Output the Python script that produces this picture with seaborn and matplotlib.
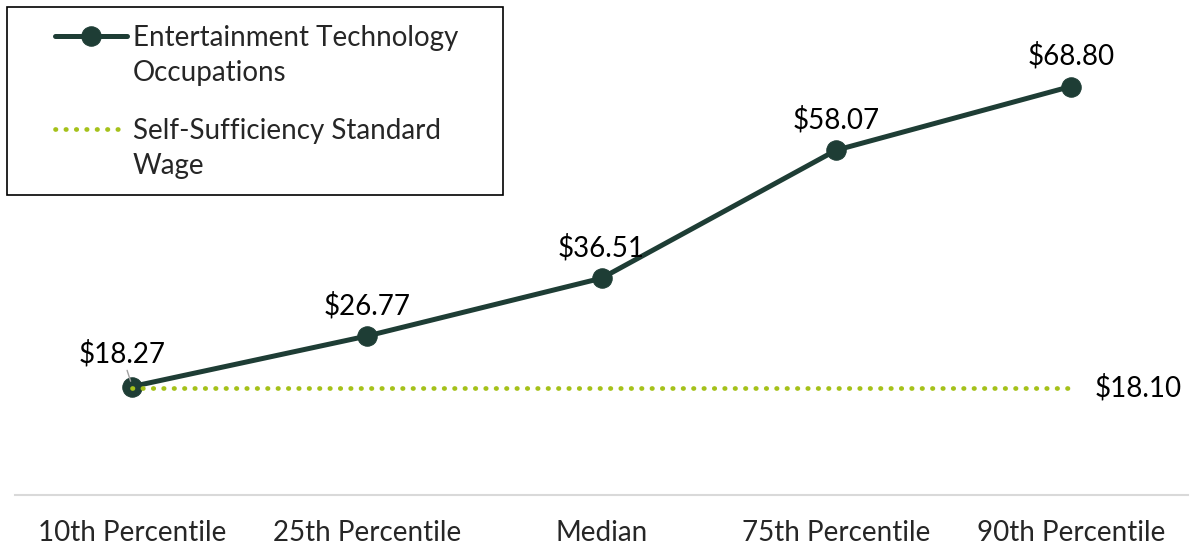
import pandas as pd
import matplotlib.pyplot as plt
import seaborn as sns
from matplotlib.patches import Rectangle
from matplotlib.lines import Line2D

sns.set_theme(style="white")
plt.rcParams['font.family'] = ['Lato', 'DejaVu Sans']

categories = ["10th Percentile", "25th Percentile", "Median", "75th Percentile", "90th Percentile"]
occupation_wages = [18.27, 26.77, 36.51, 58.07, 68.80]
self_sufficiency = [18.10, 18.10, 18.10, 18.10, 18.10]

dark_green = "#1e3d35"
lime = "#a5c11a"
fs = 20

df = pd.DataFrame({
    "x": range(len(categories)),
    "occ": occupation_wages,
    "ss": self_sufficiency,
})

fig = plt.figure(figsize=(11.95, 5.48), dpi=100)
ax = fig.add_axes([15 / 1195, 53 / 548, 1173 / 1195, 475 / 548])

sns.lineplot(data=df, x="x", y="ss", ax=ax, color=lime, linewidth=3.4,
             linestyle=(0, (0.1, 2.1)), zorder=3)
sns.lineplot(data=df, x="x", y="occ", ax=ax, color=dark_green, linewidth=3.6,
             marker="o", markersize=14, markeredgecolor=dark_green, zorder=2)
ax.lines[0].set_dash_capstyle("round")
ss_line, occ_line = ax.lines[0], ax.lines[1]

for i, v in enumerate(occupation_wages):
    if i == 0:
        ax.annotate(f"${v:.2f}", xy=(i, v), xytext=(-39, 14), textcoords="offset points",
                    ha="left", va="bottom", fontsize=fs, color="black",
                    arrowprops=dict(arrowstyle="-", color="#a0a0a0", lw=1, shrinkA=0, shrinkB=4))
    else:
        ax.annotate(f"${v:.2f}", xy=(i, v), xytext=(0, 12), textcoords="offset points",
                    ha="center", va="bottom", fontsize=fs, color="black")
ax.annotate(f"${self_sufficiency[-1]:.2f}", xy=(len(categories) - 1, self_sufficiency[-1]),
            xytext=(17, 0), textcoords="offset points", ha="left", va="center",
            fontsize=fs, color="black")

ax.set_xlim(-0.5, 4.5)
ax.set_ylim(0, 80)
ax.set_xticks(range(len(categories)))
ax.set_xticklabels(categories, fontsize=fs)
ax.set_yticks([])
ax.set_xlabel("")
ax.set_ylabel("")
ax.tick_params(axis="x", length=0, pad=18)
for side in ["top", "right", "left"]:
    ax.spines[side].set_visible(False)
ax.spines["bottom"].set_color("#d9d9d9")
ax.spines["bottom"].set_linewidth(1.5)

# legend: handle sits beside first line of each two-line label
blank = Line2D([], [], linestyle="none")
leg_kw = dict(loc="upper left", bbox_transform=fig.transFigure, fontsize=fs,
              frameon=False, borderpad=0, borderaxespad=0, handlelength=2.6,
              labelspacing=0.33, handletextpad=0.2)
leg1 = ax.legend([occ_line, blank], ["Entertainment Technology", "Occupations"],
                 bbox_to_anchor=(55 / 1195, 1 - 25 / 548), **leg_kw)
ax.add_artist(leg1)
ax.legend([ss_line, blank], ["Self-Sufficiency Standard", "Wage"],
          bbox_to_anchor=(55 / 1195, 1 - 118 / 548), **leg_kw)
fig.patches.append(Rectangle((7 / 1195, 1 - 195 / 548), 496 / 1195, 188 / 548,
                             transform=fig.transFigure, fill=False,
                             edgecolor="black", linewidth=1.2))

fig.savefig("out.png", dpi=100)
